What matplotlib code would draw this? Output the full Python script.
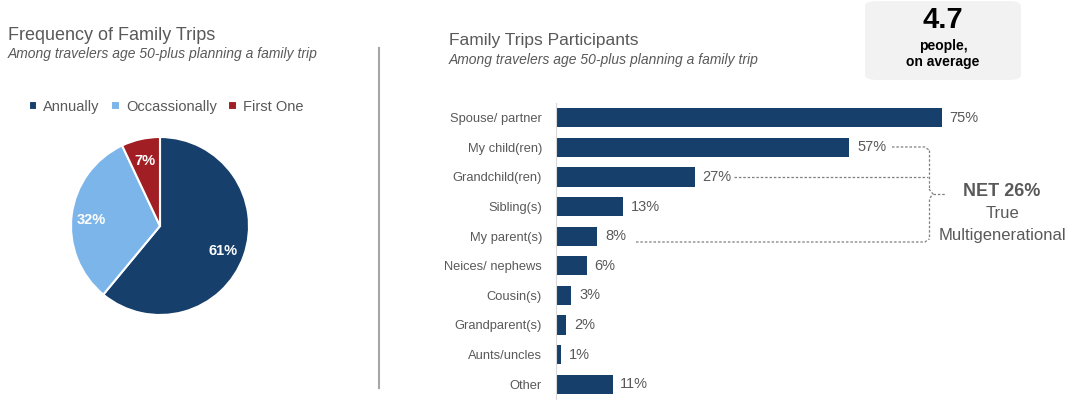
import matplotlib
matplotlib.use("Agg")
import matplotlib.pyplot as plt
from matplotlib.patches import FancyBboxPatch
from matplotlib.lines import Line2D
import math

plt.rcParams['font.family'] = ['Liberation Sans', 'DejaVu Sans']

pie_labels = ["Annually", "Occassionally", "First One"]
pie_values = [61, 32, 7]
pie_colors = ["#163f6c", "#7cb5ea", "#a11f24"]

categories = ["Spouse/ partner", "My child(ren)", "Grandchild(ren)", "Sibling(s)",
              "My parent(s)", "Neices/ nephews", "Cousin(s)", "Grandparent(s)",
              "Aunts/uncles", "Other"]
values = [75, 57, 27, 13, 8, 6, 3, 2, 1, 11]
bar_color = "#163f6c"
gray = "#595959"

W, H = 1080, 413
fig = plt.figure(figsize=(W / 100, H / 100), dpi=100)
fig.patch.set_facecolor("white")

def fx(x): return x / W
def fy(y): return 1 - y / H

# Titles
fig.text(fx(8), fy(35), "Frequency of Family Trips", fontsize=13, color=gray, va="center")
fig.text(fx(8), fy(54), "Among travelers age 50-plus planning a family trip", fontsize=10,
         color=gray, style="italic", va="center")
fig.text(fx(449), fy(41), "Family Trips Participants", fontsize=12.5, color=gray, va="center")
fig.text(fx(449), fy(60), "Among travelers age 50-plus planning a family trip", fontsize=10,
         color=gray, style="italic", va="center")

# Divider
fig.add_artist(Line2D([fx(379), fx(379)], [fy(48), fy(388)], color="#a6a6a6", lw=1.5))

# Pie
cx, cy, r = 160, 226, 89
pax = fig.add_axes([fx(cx - r), fy(cy + r), 2 * r / W, 2 * r / H])
wedges, _ = pax.pie(pie_values, colors=pie_colors, startangle=90, counterclock=False,
                    wedgeprops=dict(edgecolor="white", linewidth=1.5))
pax.set_aspect("auto")
pax.set_xlim(-1, 1); pax.set_ylim(-1, 1)
cum = 0
label_r = [0.75, 0.78, 0.78]
for i, v in enumerate(pie_values):
    mid = 90 - (cum + v / 2) * 3.6
    cum += v
    rr = label_r[i]
    pax.text(rr * math.cos(math.radians(mid)), rr * math.sin(math.radians(mid)) - 0.03,
             f"{v}%", ha="center", va="center", color="white", fontsize=10.5, fontweight="bold")

# Legend
leg = fig.legend(wedges, pie_labels, loc="center", bbox_to_anchor=(fx(166), fy(107)),
                 ncol=3, frameon=False, fontsize=10.5, handlelength=0.6, handleheight=0.6,
                 handletextpad=0.4, columnspacing=0.8, labelcolor=gray)

# Bars
x0 = 556
px_per = 5.147
ax = fig.add_axes([fx(x0), fy(399), (W - x0) / W, (399 - 103) / H])
y = list(range(len(categories)))
ax.barh(y, values, height=0.65, color=bar_color)
ax.set_ylim(len(categories) - 0.5, -0.5)
ax.set_xlim(0, (W - x0) / px_per)
ax.set_yticks(y)
ax.set_yticklabels(categories, fontsize=9.3, color=gray)
ax.tick_params(axis="y", length=0, pad=10)
ax.set_xticks([])
for s in ["top", "right", "bottom"]:
    ax.spines[s].set_visible(False)
ax.spines["left"].set_color("#d9d9d9")
for i, v in enumerate(values):
    ax.text(v + 1.5, i, f"{v}%", va="center", ha="left", fontsize=10.5, color=gray)

# Bracket annotation (pixel coords)
dash = dict(color="#7f7f7f", lw=0.9, ls=(0, (2, 1.5)))
def pl(xs, ys):
    fig.add_artist(Line2D([fx(v) for v in xs], [fy(v) for v in ys], **dash))
pl([892, 925, 929], [147, 147, 150])
pl([734, 928], [177, 177])
pl([636, 925, 929], [242, 242, 239])
pl([929, 929], [150, 189])
pl([929, 929], [199, 239])
pl([929, 933, 929], [189, 194, 199])
pl([933, 945], [194, 194])

fig.text(fx(1002), fy(192), "NET 26%", fontsize=13, fontweight="bold", color=gray,
         ha="center", va="center")
fig.text(fx(1002), fy(214), "True", fontsize=12, color=gray, ha="center", va="center")
fig.text(fx(1002), fy(235), "Multigenerational", fontsize=12, color=gray, ha="center", va="center")

# Info box
box = FancyBboxPatch((fx(865), fy(80)), fx(156), 79 / H,
                     boxstyle="round,pad=0,rounding_size=0.012",
                     transform=fig.transFigure, facecolor="#f2f2f2", edgecolor="none")
fig.add_artist(box)
fig.text(fx(943), fy(20), "4.7", fontsize=21, fontweight="bold", color="black",
         ha="center", va="center")
fig.text(fx(943), fy(46), "people,", fontsize=10, fontweight="bold", color="black",
         ha="center", va="center")
fig.text(fx(943), fy(62), "on average", fontsize=10, fontweight="bold", color="black",
         ha="center", va="center")

fig.savefig("out.png", dpi=100, facecolor="white")
